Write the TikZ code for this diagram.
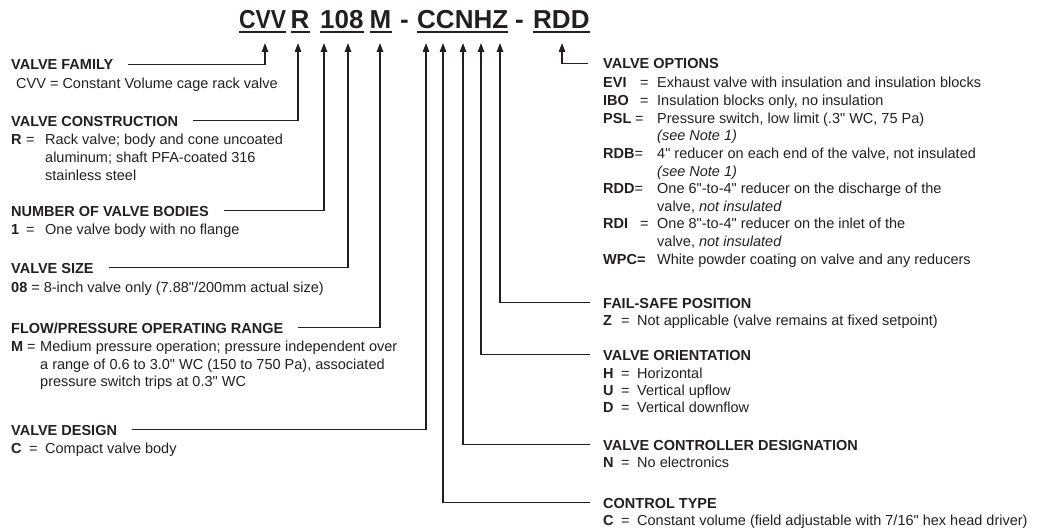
\documentclass[tikz,border=0pt]{standalone}
\usepackage{fontspec}
\newfontfamily\hv{Liberation Sans}
\usetikzlibrary{arrows.meta,calc}
\definecolor{ink}{HTML}{231F20}
\begin{document}
\begin{tikzpicture}[x=1pt,y=-1pt,
  txt/.style={inner sep=0pt, anchor=base west, text=ink, font=\hv\fontsize{14.5}{17.6}\selectfont},
  hd/.style={txt, font=\hv\bfseries\fontsize{14.5}{17.6}\selectfont},
  ttl/.style={inner sep=0pt, anchor=base west, text=ink, font=\hv\bfseries\fontsize{26}{26}\selectfont},
  conn/.style={draw=ink, line width=1.3pt, -{Triangle[length=9pt,width=6.5pt]}},
  uline/.style={draw=ink, line width=2pt},
]
\useasboundingbox (0,0) rectangle (1040,532);

% ---------- title ----------
\node[ttl] (tCVV) at (239,28.5) {\scalebox{0.88}[1]{CVV}};
\node[ttl] (tR)   at (290.5,28.5) {R};
\node[ttl] (t108) at (320,28.5) {108};
\node[ttl] (tM)   at (369.5,28.5) {M};
\node[ttl] (td1)  at (400,28.5) {-};
\node[ttl] (tCC)  at (417,28.5) {CCNHZ};
\node[ttl] (td2)  at (515,28.5) {-};
\node[ttl] (tRDD) at (533,28.5) {RDD};
\foreach \s in {tCVV,tR,t108,tM,tCC,tRDD}
  \draw[uline] ($(\s.base west)+(0,4)$) -- ($(\s.base east)+(0,4)$);

% arrow tips
\coordinate (aFam) at (265,43);
\coordinate (aCon) at (298,43);
\coordinate (aNum) at (324,43);
\coordinate (aSiz) at (348,43);
\coordinate (aFlo) at (380,43);
\coordinate (aDes) at (426,43);
\coordinate (aTyp) at (443,43);
\coordinate (aCtl) at (463,43);
\coordinate (aOri) at (481,43);
\coordinate (aFs)  at (500,43);
\coordinate (aOpt) at (562,43);

% ---------- left column ----------
\node[hd] (famH) at (11,70) {VALVE FAMILY};
\node[txt] (famD) at (16,89) {CVV = Constant Volume cage rack valve};

\node[hd] (conH) at (11,126) {VALVE CONSTRUCTION};
\node[hd] (conK) at (11,144) {R};
\node[txt] (conE) at (26,144) {=};
\node[txt] (conD1) at (45,144) {Rack valve; body and cone uncoated};
\node[txt] (conD2) at (45,162) {aluminum; shaft PFA-coated 316};
\node[txt] (conD3) at (45,180) {stainless steel};

\node[hd] (numH) at (11,216) {NUMBER OF VALVE BODIES};
\node[hd] (numK) at (11,234) {1};
\node[txt] (numE) at (26,234) {=};
\node[txt] (numD) at (45,234) {One valve body with no flange};

\node[hd] (sizH) at (11,273) {VALVE SIZE};
\node[txt] (sizD) at (11,292) {\textbf{08} = 8-inch valve only (7.88"/200mm actual size)};

\node[hd] (floH) at (11,333) {FLOW/PRESSURE OPERATING RANGE};
\node[hd] (floK) at (11,351) {M};
\node[txt] (floE) at (27,351) {=};
\node[txt] (floD1) at (40,351) {Medium pressure operation; pressure independent over};
\node[txt] (floD2) at (40,369) {a range of 0.6 to 3.0" WC (150 to 750 Pa), associated};
\node[txt] (floD3) at (40,386) {pressure switch trips at 0.3" WC};

\node[hd] (desH) at (11,435) {VALVE DESIGN};
\node[hd] (desK) at (11,453) {C};
\node[txt] (desE) at (29,453) {=};
\node[txt] (desD) at (45,453) {Compact valve body};

% ---------- right column ----------
\node[hd] (optH) at (603,69) {VALVE OPTIONS};
\node[hd] (o1K) at (603,88) {EVI};   \node[txt] (o1E) at (640,88) {=};
\node[txt] (o1D) at (657,88) {Exhaust valve with insulation and insulation blocks};
\node[hd] (o2K) at (603,105.6) {IBO}; \node[txt] (o2E) at (640,105.6) {=};
\node[txt] (o2D) at (657,105.6) {Insulation blocks only, no insulation};
\node[hd] (o3K) at (603,123.2) {PSL}; \node[txt] (o3E) at (635,123.2) {=};
\node[txt] (o3D) at (657,123.2) {Pressure switch, low limit (.3" WC, 75 Pa)};
\node[txt] (o3N) at (657,140.8) {\itshape (see Note 1)};
\node[hd] (o4K) at (603,158.4) {RDB}; \node[txt] (o4E) at (634.5,158.4) {=};
\node[txt] (o4D) at (657,158.4) {4" reducer on each end of the valve, not insulated};
\node[txt] (o4N) at (657,176) {\itshape (see Note 1)};
\node[hd] (o5K) at (603,193.6) {RDD}; \node[txt] (o5E) at (634.5,193.6) {=};
\node[txt] (o5D) at (657,193.6) {One 6"-to-4" reducer on the discharge of the};
\node[txt] (o5N) at (657,211.2) {valve, \textit{not insulated}};
\node[hd] (o6K) at (603,228.8) {RDI}; \node[txt] (o6E) at (640,228.8) {=};
\node[txt] (o6D) at (657,228.8) {One 8"-to-4" reducer on the inlet of the};
\node[txt] (o6N) at (657,246.4) {valve, \textit{not insulated}};
\node[hd] (o7K) at (603,264) {WPC=};
\node[txt] (o7D) at (657,264) {White powder coating on valve and any reducers};

\node[hd] (fsH) at (603,308) {FAIL-SAFE POSITION};
\node[hd] (fsK) at (603,325) {Z}; \node[txt] (fsE) at (621,325) {=};
\node[txt] (fsD) at (637,325) {Not applicable (valve remains at fixed setpoint)};

\node[hd] (orH) at (603,360) {VALVE ORIENTATION};
\node[hd] (or1K) at (603,378) {H}; \node[txt] (or1E) at (621,378) {=};
\node[txt] (or1D) at (637,378) {Horizontal};
\node[hd] (or2K) at (603,395) {U}; \node[txt] (or2E) at (621,395) {=};
\node[txt] (or2D) at (637,395) {Vertical upflow};
\node[hd] (or3K) at (603,412) {D}; \node[txt] (or3E) at (621,412) {=};
\node[txt] (or3D) at (637,412) {Vertical downflow};

\node[hd] (ctH) at (603,450) {VALVE CONTROLLER DESIGNATION};
\node[hd] (ctK) at (603,467) {N}; \node[txt] (ctE) at (621,467) {=};
\node[txt] (ctD) at (637,467) {No electronics};

\node[hd] (tyH) at (603,508) {CONTROL TYPE};
\node[hd] (tyK) at (603,525) {C}; \node[txt] (tyE) at (621,525) {=};
\node[txt] (tyD) at (637,525) {Constant volume (field adjustable with 7/16" hex head driver)};

% ---------- connectors ----------
\draw[conn] ($(famH.base east)+(15,-5.2)$) -| (aFam);
\draw[conn] ($(conH.base east)+(15,-5.2)$) -| (aCon);
\draw[conn] ($(numH.base east)+(15,-5.2)$) -| (aNum);
\draw[conn] ($(sizH.base east)+(15,-5.2)$) -| (aSiz);
\draw[conn] ($(floH.base east)+(15,-5.2)$) -| (aFlo);
\draw[conn] ($(desH.base east)+(15,-5.2)$) -| (aDes);

\draw[conn] ($(optH.base west)+(-15,-5.2)$) -| (aOpt);
\draw[conn] ($(fsH.base west)+(-13,-5.2)$) -| (aFs);
\draw[conn] ($(orH.base west)+(-13,-5.2)$) -| (aOri);
\draw[conn] ($(ctH.base west)+(-13,-5.2)$) -| (aCtl);
\draw[conn] ($(tyH.base west)+(-13,-5.2)$) -| (aTyp);
\end{tikzpicture}
\end{document}
